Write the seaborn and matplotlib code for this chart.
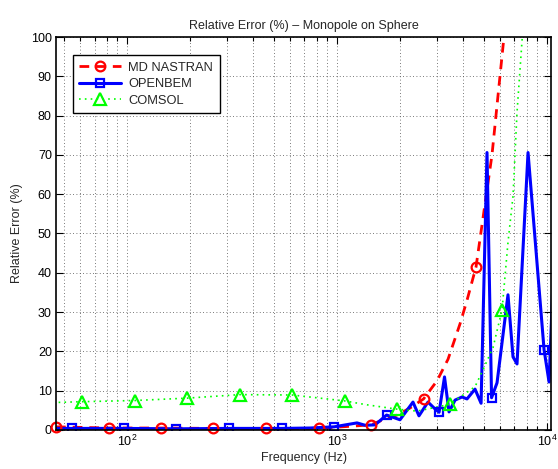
import numpy as np
import matplotlib
matplotlib.use("Agg")
import matplotlib.pyplot as plt
from matplotlib.lines import Line2D
from matplotlib.ticker import LogLocator, NullFormatter, FixedLocator
import seaborn as sns

# --- data (frequency in Hz, relative error in %) ---
# MD NASTRAN (dense curve + marker points)
nastran_f = [45.9, 81.7, 145, 258, 459, 817, 1452, 1656, 1931, 2228, 2582,
             2993, 3378, 3852, 4159, 4592, 5470, 6237, 7040, 8200]
nastran_err = [0.8, 0.5, 0.5, 0.4, 0.4, 0.4, 1.3, 2.6, 3.8, 5.6, 7.9,
               12.5, 18.0, 27.0, 33.0, 41.5, 70.0, 100.0, 125.0, 150.0]
nastran_mk_f = [45.9, 81.7, 145, 258, 459, 817, 1452, 2582, 4592]
nastran_mk_err = [0.8, 0.5, 0.5, 0.4, 0.4, 0.4, 1.3, 7.9, 41.5]

# OPENBEM
openbem_f = [45.9, 54.5, 96.8, 172, 306, 545, 743, 968, 1245, 1360, 1517,
             1722, 1995, 2300, 2456, 2711, 2897, 3062, 3250, 3415, 3648,
             3938, 4159, 4540, 4853, 5179, 5445, 5781, 6518, 6888, 7197,
             8122, 9683, 10227, 11040]
openbem_err = [0.4, 0.4, 0.4, 0.3, 0.4, 0.4, 0.5, 0.8, 1.8, 1.2, 1.3,
               3.8, 2.6, 7.1, 3.6, 7.1, 5.6, 4.5, 13.5, 4.6, 7.6,
               8.4, 7.9, 10.4, 6.8, 70.6, 8.2, 12.0, 34.4, 18.6, 16.8,
               70.6, 20.4, 12.2, 58.0]
openbem_mk_f = [54.5, 96.8, 172, 306, 545, 968, 1722, 3062, 5445, 9683]
openbem_mk_err = [0.4, 0.4, 0.3, 0.4, 0.4, 0.8, 3.8, 4.5, 8.2, 20.4]

# COMSOL
comsol_f = [34.3, 61.1, 109, 193, 344, 611, 1086, 1390, 1932, 2404, 3436,
            4540, 4955, 5534, 6109, 6518, 6888, 7197, 7603, 8300]
comsol_err = [6.8, 7.2, 7.5, 8.1, 9.0, 8.9, 7.4, 6.4, 5.3, 4.8, 6.5,
              11.0, 15.3, 21.0, 30.6, 47.7, 59.5, 80.8, 99.0, 130.0]
comsol_mk_f = [61.1, 109, 193, 344, 611, 1086, 1932, 3436, 6109]
comsol_mk_err = [7.2, 7.5, 8.1, 9.0, 8.9, 7.4, 5.3, 6.5, 30.6]

labels = ['MD NASTRAN', 'OPENBEM', 'COMSOL']

sns.set_theme(style="ticks")
plt.rcParams['font.family'] = ['Liberation Sans', 'DejaVu Sans']
plt.rcParams['mathtext.fontset'] = 'custom'
plt.rcParams['mathtext.rm'] = 'Liberation Sans'
plt.rcParams['mathtext.it'] = 'Liberation Sans'

fig = plt.figure(figsize=(5.58, 4.69), dpi=100)
ax = fig.add_axes([0.1004, 0.0832, 0.8871, 0.8379])

# dense curves
sns.lineplot(x=nastran_f, y=nastran_err, ax=ax, color='red', lw=2,
             dashes=False, sort=False)
sns.lineplot(x=openbem_f, y=openbem_err, ax=ax, color='blue', lw=2.2,
             sort=False)
sns.lineplot(x=comsol_f, y=comsol_err, ax=ax, color='#00ff00', lw=1.2,
             sort=False)
ax.lines[0].set_dashes((3.5, 2.5))
ax.lines[2].set_linestyle((0, (1, 2.5)))

# markers
ax.plot(nastran_mk_f, nastran_mk_err, ls='none', marker='o', ms=7,
        mfc='none', mec='red', mew=1.6, clip_on=False)
ax.plot(openbem_mk_f, openbem_mk_err, ls='none', marker='s', ms=6,
        mfc='none', mec='blue', mew=1.6)
ax.plot(comsol_mk_f, comsol_mk_err, ls='none', marker='^', ms=8,
        mfc='none', mec='#00ff00', mew=1.6)

ax.set_xscale('log')
ax.set_xlim(45.9, 10450)
ax.set_ylim(0, 100)
ax.set_yticks(np.arange(0, 101, 10))
ax.xaxis.set_major_locator(FixedLocator([1e2, 1e3, 1e4]))
ax.xaxis.set_minor_locator(LogLocator(base=10, subs=np.arange(2, 10)))
ax.xaxis.set_minor_formatter(NullFormatter())
ax.set_xticklabels([r'$10^2$', r'$10^3$', r'$10^4$'])

ax.grid(which='major', axis='both', linestyle=(0, (1, 3)), color='0.3', lw=0.6)
ax.grid(which='minor', axis='x', linestyle=(0, (1, 3)), color='0.3', lw=0.6)
ax.tick_params(which='both', direction='in', top=True, right=True,
               labelsize=9, width=0.8, colors='black')
ax.tick_params(which='major', length=5, pad=3)
ax.tick_params(which='minor', length=3)
for s in ax.spines.values():
    s.set_visible(True)
    s.set_linewidth(1.2)
    s.set_color('black')

ax.set_xlabel('Frequency (Hz)', fontsize=9, labelpad=2)
ax.set_ylabel('Relative Error (%)', fontsize=9, labelpad=6)
ax.set_title('Relative Error (%) \u2013 Monopole on Sphere', fontsize=9, pad=6)

handles = [
    Line2D([], [], color='red', lw=2, dashes=(3.5, 2.5), marker='o', ms=7,
           mfc='none', mew=1.6),
    Line2D([], [], color='blue', lw=2.2, marker='s', ms=6, mfc='none', mew=1.6),
    Line2D([], [], color='#00ff00', lw=1.2, ls=(0, (1, 2.5)), marker='^', ms=8,
           mfc='none', mew=1.6),
]
leg = ax.legend(handles, labels, loc='upper left', bbox_to_anchor=(0.034, 0.954),
                borderaxespad=0, fontsize=9.3, frameon=True, fancybox=False,
                handlelength=3.2, handletextpad=0.6, labelspacing=0.35,
                borderpad=0.5)
leg.get_frame().set_edgecolor('black')
leg.get_frame().set_linewidth(1.0)
leg.get_frame().set_alpha(1)

fig.savefig('out.png', dpi=100)
